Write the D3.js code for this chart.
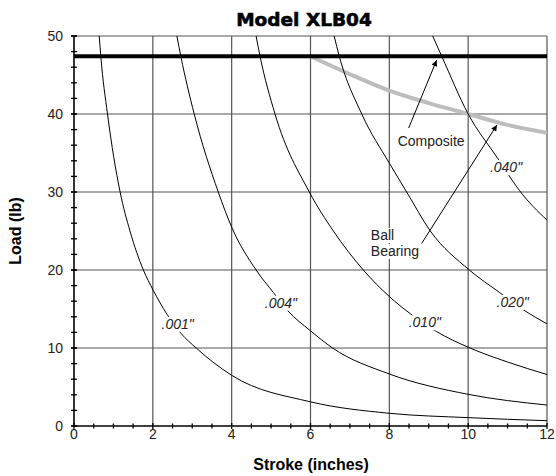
<!DOCTYPE html>
<html>
<head>
<meta charset="utf-8">
<script src="https://cdn.jsdelivr.net/npm/d3@7"></script>
<style>
  body { margin: 0; background: #fff; }
  svg { display: block; font-family: "Liberation Sans", Arial, sans-serif; }
</style>
</head>
<body>
<svg id="chart" width="556" height="476"></svg>
<script>
// load (lb) vs stroke (inches), one array per gap size
const gapLabels = ['.001"', '.004"', '.010"', '.020"', '.040"'];
const curve001 = [[0.64,50],[0.68,47.4],[0.85,40],[1.17,30],[1.42,25],[1.76,20],[2.01,17.4],[2.71,11.9],[3.1,10],[4,6.5],[6,3.1],[8,1.63],[10,1.07],[12,0.68]];
const curve004 = [[2.61,50],[2.71,47.4],[3.05,40],[3.66,30],[4.0,25.5],[4.62,20],[5.06,17.1],[5.42,14.8],[6,12.2],[6.56,10],[8,6.67],[10,4.06],[12,2.69]];
const curve010 = [[4.62,50],[4.72,47.4],[5.1,40],[5.97,30],[6.58,25],[7.34,20],[8,16.6],[8.53,14.4],[9.2,12.1],[10,10.1],[11,8.2],[12,6.6]];
const curve020 = [[6.6,50],[6.73,47.4],[7.3,40],[8.0,33.7],[8.44,30],[9.04,25],[10.03,20],[10.8,17.1],[11.4,14.9],[12,13.1]];
const curve040 = [[9.1,50],[9.33,47.4],[10.0,40],[10.75,34.3],[11.13,31.4],[11.3,30.2],[12,26.4]];
const curves = [curve001, curve004, curve010, curve020, curve040];
// label anchor (stroke, load) for each curve
const gapLabelPos = [[2.63,13.1],[5.25,15.8],[8.9,13.3],[11.13,15.9],[10.96,33.2]];

// composite limit (flat) and ball bearing limit (grey)
const compositeLoad = 47.4;
const ballBearing = [[6,47.4],[7,45.1],[8,43.0],[9,41.4],[10,40.0],[11,38.6],[12,37.6]];

const xTicks = [0, 2, 4, 6, 8, 10, 12];
const yTicks = [0, 10, 20, 30, 40, 50];

const svg = d3.select("#chart");
const x = d3.scaleLinear().domain([0, 12]).range([74, 547]);
const y = d3.scaleLinear().domain([0, 50]).range([426, 36]);

svg.append("defs").append("clipPath").attr("id", "plot")
  .append("rect")
  .attr("x", x(0)).attr("y", y(50))
  .attr("width", x(12) - x(0)).attr("height", y(0) - y(50));

svg.append("defs").append("marker")
  .attr("id", "arrow")
  .attr("viewBox", "0 0 10 10")
  .attr("refX", 10).attr("refY", 5)
  .attr("markerWidth", 7).attr("markerHeight", 6)
  .attr("markerUnits", "userSpaceOnUse")
  .attr("orient", "auto")
  .append("path").attr("d", "M0,0 L10,5 L0,10 z").attr("fill", "#000");

// ── grid ──
const grid = svg.append("g").attr("stroke", "#555").attr("stroke-width", 1.2);
grid.selectAll("line.v").data(xTicks.slice(1)).join("line")
  .attr("x1", d => x(d)).attr("x2", d => x(d))
  .attr("y1", y(0)).attr("y2", y(50));
grid.selectAll("line.h").data(yTicks.slice(1)).join("line")
  .attr("x1", x(0)).attr("x2", x(12))
  .attr("y1", d => y(d)).attr("y2", d => y(d));

// ── curves ──
const line = d3.line().x(d => x(d[0])).y(d => y(d[1])).curve(d3.curveMonotoneX);
const plot = svg.append("g").attr("clip-path", "url(#plot)");

plot.append("path")
  .datum(ballBearing)
  .attr("d", line)
  .attr("fill", "none")
  .attr("stroke", "#bdbdbd")
  .attr("stroke-width", 4);

plot.selectAll("path.gap").data(curves).join("path")
  .attr("class", "gap")
  .attr("d", line)
  .attr("fill", "none")
  .attr("stroke", "#000")
  .attr("stroke-width", 1);

plot.append("line")
  .attr("x1", x(0)).attr("x2", x(12))
  .attr("y1", y(compositeLoad)).attr("y2", y(compositeLoad))
  .attr("stroke", "#000").attr("stroke-width", 4);

// ── axes ──
const axisG = svg.append("g").attr("stroke", "#000");
axisG.append("line").attr("x1", x(0)).attr("x2", x(12)).attr("y1", y(0)).attr("y2", y(0)).attr("stroke-width", 1.6);
axisG.append("line").attr("x1", x(0)).attr("x2", x(0)).attr("y1", y(0)).attr("y2", y(50)).attr("stroke-width", 1.6);

const xMinor = d3.range(0, 12.01, 0.5);
const yMinor = d3.range(0, 50.01, 2);
axisG.selectAll("line.xt").data(xMinor).join("line")
  .attr("x1", d => x(d)).attr("x2", d => x(d))
  .attr("y1", d => y(0) - (d % 2 === 0 ? 3 : 2.5))
  .attr("y2", d => y(0) + (d % 2 === 0 ? 3 : 2.5))
  .attr("stroke-width", 1.3);
axisG.selectAll("line.yt").data(yMinor.concat(yTicks)).join("line")
  .attr("x1", d => x(0) - 3).attr("x2", d => x(0) + 3)
  .attr("y1", d => y(d)).attr("y2", d => y(d))
  .attr("stroke-width", 1.3);

svg.append("g").selectAll("text").data(xTicks).join("text")
  .attr("x", d => x(d)).attr("y", y(0) + 13)
  .attr("text-anchor", "middle")
  .attr("font-size", 14).attr("fill", "#222")
  .text(d => d);

svg.append("g").selectAll("text").data(yTicks).join("text")
  .attr("x", x(0) - 11).attr("y", d => y(d) + 5)
  .attr("text-anchor", "end")
  .attr("font-size", 14).attr("fill", "#222")
  .text(d => d);

// ── titles ──
svg.append("text")
  .attr("x", 304).attr("y", 26)
  .attr("text-anchor", "middle")
  .attr("font-family", "DejaVu Sans")
  .attr("font-weight", "bold").attr("font-size", 18.5)
  .attr("stroke", "#000").attr("stroke-width", 0.6)
  .text("Model XLB04");

svg.append("text")
  .attr("x", 311).attr("y", 470)
  .attr("text-anchor", "middle")
  .attr("font-weight", "bold").attr("font-size", 16)
  .text("Stroke (inches)");

svg.append("text")
  .attr("transform", "translate(21,231) rotate(-90)")
  .attr("text-anchor", "middle")
  .attr("font-weight", "bold").attr("font-size", 16)
  .text("Load (lb)");

// ── labels with white backing so curves break around them ──
function backedText(g, tx, ty, str, opts) {
  const t = g.append("text")
    .attr("x", tx).attr("y", ty)
    .attr("text-anchor", opts.anchor || "middle")
    .attr("font-size", 14)
    .attr("font-style", opts.italic ? "italic" : null)
    .attr("fill", "#222")
    .text(str);
  const b = t.node().getBBox();
  g.insert("rect", () => t.node())
    .attr("x", b.x - 2).attr("y", b.y + 1)
    .attr("width", b.width + 4).attr("height", b.height - 1)
    .attr("fill", "#fff");
  return t;
}

const labels = svg.append("g");
gapLabels.forEach((lab, i) => {
  const [sx, ly] = gapLabelPos[i];
  backedText(labels, x(sx), y(ly) + 5, lab, { italic: true });
});

// ── annotations ──
const notes = svg.append("g");
notes.append("line")
  .attr("x1", x(8.49)).attr("y1", y(38.2))
  .attr("x2", x(9.2)).attr("y2", y(46.9))
  .attr("stroke", "#000").attr("stroke-width", 1)
  .attr("marker-end", "url(#arrow)");
notes.append("line")
  .attr("x1", x(8.82)).attr("y1", y(23.4))
  .attr("x2", x(10.73)).attr("y2", y(38.6))
  .attr("stroke", "#000").attr("stroke-width", 1)
  .attr("marker-end", "url(#arrow)");

backedText(notes, x(9.06), y(36.5) + 5, "Composite", {});
backedText(notes, x(7.53), y(23.85), "Ball", { anchor: "start" });
backedText(notes, x(7.53), y(21.8), "Bearing", { anchor: "start" });
</script>
</body>
</html>
